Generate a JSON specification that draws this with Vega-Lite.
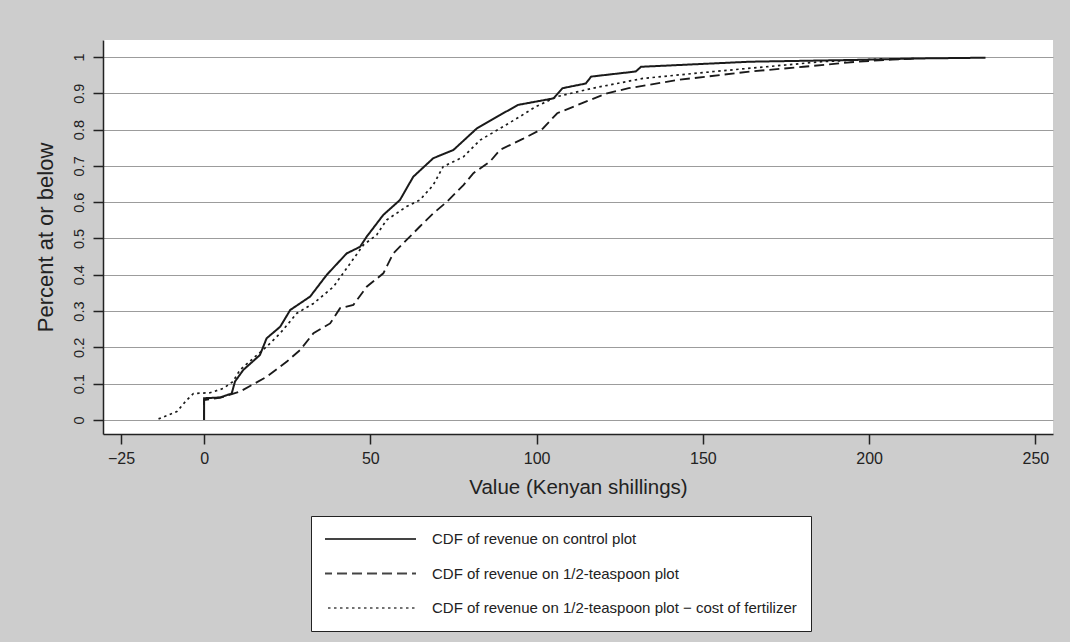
{
  "$schema": "https://vega.github.io/schema/vega-lite/v6.json",
  "autosize": {"type": "none"},
  "width": 950,
  "height": 394,
  "padding": {"left": 103, "top": 40, "right": 17, "bottom": 208},
  "background": "#cdcdcd",
  "config": {
    "view": {"fill": "white", "stroke": null},
    "font": "Liberation Sans",
    "axis": {"labelColor": "#222", "titleColor": "#222", "domainColor": "#222", "tickColor": "#222", "titleFontWeight": "normal"}
  },
  "data": {
    "values": [
      {"s": "CDF of revenue on control plot", "i": 0, "x": 0, "y": 0},
      {"s": "CDF of revenue on control plot", "i": 1, "x": 0, "y": 0.06},
      {"s": "CDF of revenue on control plot", "i": 2, "x": 4.8, "y": 0.062},
      {"s": "CDF of revenue on control plot", "i": 3, "x": 8.3, "y": 0.073},
      {"s": "CDF of revenue on control plot", "i": 4, "x": 9.3, "y": 0.106},
      {"s": "CDF of revenue on control plot", "i": 5, "x": 11.8, "y": 0.138},
      {"s": "CDF of revenue on control plot", "i": 6, "x": 16.8, "y": 0.179},
      {"s": "CDF of revenue on control plot", "i": 7, "x": 18.8, "y": 0.225},
      {"s": "CDF of revenue on control plot", "i": 8, "x": 22.9, "y": 0.257},
      {"s": "CDF of revenue on control plot", "i": 9, "x": 25.9, "y": 0.303},
      {"s": "CDF of revenue on control plot", "i": 10, "x": 31.9, "y": 0.34},
      {"s": "CDF of revenue on control plot", "i": 11, "x": 36.9, "y": 0.40},
      {"s": "CDF of revenue on control plot", "i": 12, "x": 42.9, "y": 0.459},
      {"s": "CDF of revenue on control plot", "i": 13, "x": 46.9, "y": 0.477},
      {"s": "CDF of revenue on control plot", "i": 14, "x": 48.9, "y": 0.505},
      {"s": "CDF of revenue on control plot", "i": 15, "x": 53.9, "y": 0.565},
      {"s": "CDF of revenue on control plot", "i": 16, "x": 58.9, "y": 0.606},
      {"s": "CDF of revenue on control plot", "i": 17, "x": 62.9, "y": 0.670},
      {"s": "CDF of revenue on control plot", "i": 18, "x": 68.9, "y": 0.721},
      {"s": "CDF of revenue on control plot", "i": 19, "x": 75, "y": 0.744},
      {"s": "CDF of revenue on control plot", "i": 20, "x": 82, "y": 0.803},
      {"s": "CDF of revenue on control plot", "i": 21, "x": 89, "y": 0.840},
      {"s": "CDF of revenue on control plot", "i": 22, "x": 94.4, "y": 0.868},
      {"s": "CDF of revenue on control plot", "i": 23, "x": 105.1, "y": 0.886},
      {"s": "CDF of revenue on control plot", "i": 24, "x": 107.8, "y": 0.914},
      {"s": "CDF of revenue on control plot", "i": 25, "x": 114.8, "y": 0.927},
      {"s": "CDF of revenue on control plot", "i": 26, "x": 116.4, "y": 0.946},
      {"s": "CDF of revenue on control plot", "i": 27, "x": 129.8, "y": 0.960},
      {"s": "CDF of revenue on control plot", "i": 28, "x": 131.4, "y": 0.973},
      {"s": "CDF of revenue on control plot", "i": 29, "x": 164.2, "y": 0.987},
      {"s": "CDF of revenue on control plot", "i": 30, "x": 196.3, "y": 0.992},
      {"s": "CDF of revenue on control plot", "i": 31, "x": 215, "y": 0.996},
      {"s": "CDF of revenue on control plot", "i": 32, "x": 235, "y": 0.998},

      {"s": "CDF of revenue on 1/2-teaspoon plot", "i": 0, "x": 0, "y": 0},
      {"s": "CDF of revenue on 1/2-teaspoon plot", "i": 1, "x": 0, "y": 0.055},
      {"s": "CDF of revenue on 1/2-teaspoon plot", "i": 2, "x": 5, "y": 0.062},
      {"s": "CDF of revenue on 1/2-teaspoon plot", "i": 3, "x": 10.8, "y": 0.078},
      {"s": "CDF of revenue on 1/2-teaspoon plot", "i": 4, "x": 18.8, "y": 0.119},
      {"s": "CDF of revenue on 1/2-teaspoon plot", "i": 5, "x": 24.9, "y": 0.161},
      {"s": "CDF of revenue on 1/2-teaspoon plot", "i": 6, "x": 28.9, "y": 0.193},
      {"s": "CDF of revenue on 1/2-teaspoon plot", "i": 7, "x": 32.9, "y": 0.239},
      {"s": "CDF of revenue on 1/2-teaspoon plot", "i": 8, "x": 37.9, "y": 0.266},
      {"s": "CDF of revenue on 1/2-teaspoon plot", "i": 9, "x": 40.9, "y": 0.308},
      {"s": "CDF of revenue on 1/2-teaspoon plot", "i": 10, "x": 44.9, "y": 0.317},
      {"s": "CDF of revenue on 1/2-teaspoon plot", "i": 11, "x": 48.9, "y": 0.367},
      {"s": "CDF of revenue on 1/2-teaspoon plot", "i": 12, "x": 53.9, "y": 0.404},
      {"s": "CDF of revenue on 1/2-teaspoon plot", "i": 13, "x": 56.9, "y": 0.459},
      {"s": "CDF of revenue on 1/2-teaspoon plot", "i": 14, "x": 60.9, "y": 0.496},
      {"s": "CDF of revenue on 1/2-teaspoon plot", "i": 15, "x": 64.9, "y": 0.533},
      {"s": "CDF of revenue on 1/2-teaspoon plot", "i": 16, "x": 68.9, "y": 0.569},
      {"s": "CDF of revenue on 1/2-teaspoon plot", "i": 17, "x": 73, "y": 0.601},
      {"s": "CDF of revenue on 1/2-teaspoon plot", "i": 18, "x": 78, "y": 0.647},
      {"s": "CDF of revenue on 1/2-teaspoon plot", "i": 19, "x": 81, "y": 0.680},
      {"s": "CDF of revenue on 1/2-teaspoon plot", "i": 20, "x": 86, "y": 0.712},
      {"s": "CDF of revenue on 1/2-teaspoon plot", "i": 21, "x": 89, "y": 0.744},
      {"s": "CDF of revenue on 1/2-teaspoon plot", "i": 22, "x": 96, "y": 0.775},
      {"s": "CDF of revenue on 1/2-teaspoon plot", "i": 23, "x": 101.9, "y": 0.803},
      {"s": "CDF of revenue on 1/2-teaspoon plot", "i": 24, "x": 106.2, "y": 0.845},
      {"s": "CDF of revenue on 1/2-teaspoon plot", "i": 25, "x": 114.8, "y": 0.877},
      {"s": "CDF of revenue on 1/2-teaspoon plot", "i": 26, "x": 121.2, "y": 0.900},
      {"s": "CDF of revenue on 1/2-teaspoon plot", "i": 27, "x": 127.7, "y": 0.914},
      {"s": "CDF of revenue on 1/2-teaspoon plot", "i": 28, "x": 142.7, "y": 0.937},
      {"s": "CDF of revenue on 1/2-teaspoon plot", "i": 29, "x": 164.2, "y": 0.960},
      {"s": "CDF of revenue on 1/2-teaspoon plot", "i": 30, "x": 180.3, "y": 0.973},
      {"s": "CDF of revenue on 1/2-teaspoon plot", "i": 31, "x": 196.3, "y": 0.987},
      {"s": "CDF of revenue on 1/2-teaspoon plot", "i": 32, "x": 207, "y": 0.993},
      {"s": "CDF of revenue on 1/2-teaspoon plot", "i": 33, "x": 215, "y": 0.996},

      {"s": "CDF of revenue on 1/2-teaspoon plot − cost of fertilizer", "i": 0, "x": -13.7, "y": 0.003},
      {"s": "CDF of revenue on 1/2-teaspoon plot − cost of fertilizer", "i": 1, "x": -8.2, "y": 0.023},
      {"s": "CDF of revenue on 1/2-teaspoon plot − cost of fertilizer", "i": 2, "x": -5.2, "y": 0.055},
      {"s": "CDF of revenue on 1/2-teaspoon plot − cost of fertilizer", "i": 3, "x": -3.2, "y": 0.073},
      {"s": "CDF of revenue on 1/2-teaspoon plot − cost of fertilizer", "i": 4, "x": 1.8, "y": 0.075},
      {"s": "CDF of revenue on 1/2-teaspoon plot − cost of fertilizer", "i": 5, "x": 5.8, "y": 0.087},
      {"s": "CDF of revenue on 1/2-teaspoon plot − cost of fertilizer", "i": 6, "x": 8.7, "y": 0.106},
      {"s": "CDF of revenue on 1/2-teaspoon plot − cost of fertilizer", "i": 7, "x": 10.8, "y": 0.138},
      {"s": "CDF of revenue on 1/2-teaspoon plot − cost of fertilizer", "i": 8, "x": 18.8, "y": 0.202},
      {"s": "CDF of revenue on 1/2-teaspoon plot − cost of fertilizer", "i": 9, "x": 22.9, "y": 0.239},
      {"s": "CDF of revenue on 1/2-teaspoon plot − cost of fertilizer", "i": 10, "x": 27.9, "y": 0.294},
      {"s": "CDF of revenue on 1/2-teaspoon plot − cost of fertilizer", "i": 11, "x": 32.9, "y": 0.321},
      {"s": "CDF of revenue on 1/2-teaspoon plot − cost of fertilizer", "i": 12, "x": 38.9, "y": 0.367},
      {"s": "CDF of revenue on 1/2-teaspoon plot − cost of fertilizer", "i": 13, "x": 42.9, "y": 0.418},
      {"s": "CDF of revenue on 1/2-teaspoon plot − cost of fertilizer", "i": 14, "x": 47.9, "y": 0.482},
      {"s": "CDF of revenue on 1/2-teaspoon plot − cost of fertilizer", "i": 15, "x": 51.9, "y": 0.510},
      {"s": "CDF of revenue on 1/2-teaspoon plot − cost of fertilizer", "i": 16, "x": 54.9, "y": 0.551},
      {"s": "CDF of revenue on 1/2-teaspoon plot − cost of fertilizer", "i": 17, "x": 60.9, "y": 0.588},
      {"s": "CDF of revenue on 1/2-teaspoon plot − cost of fertilizer", "i": 18, "x": 64.9, "y": 0.606},
      {"s": "CDF of revenue on 1/2-teaspoon plot − cost of fertilizer", "i": 19, "x": 68.9, "y": 0.647},
      {"s": "CDF of revenue on 1/2-teaspoon plot − cost of fertilizer", "i": 20, "x": 71.9, "y": 0.698},
      {"s": "CDF of revenue on 1/2-teaspoon plot − cost of fertilizer", "i": 21, "x": 78, "y": 0.725},
      {"s": "CDF of revenue on 1/2-teaspoon plot − cost of fertilizer", "i": 22, "x": 83, "y": 0.771},
      {"s": "CDF of revenue on 1/2-teaspoon plot − cost of fertilizer", "i": 23, "x": 89, "y": 0.803},
      {"s": "CDF of revenue on 1/2-teaspoon plot − cost of fertilizer", "i": 24, "x": 95, "y": 0.836},
      {"s": "CDF of revenue on 1/2-teaspoon plot − cost of fertilizer", "i": 25, "x": 99.7, "y": 0.863},
      {"s": "CDF of revenue on 1/2-teaspoon plot − cost of fertilizer", "i": 26, "x": 106.2, "y": 0.891},
      {"s": "CDF of revenue on 1/2-teaspoon plot − cost of fertilizer", "i": 27, "x": 116.9, "y": 0.914},
      {"s": "CDF of revenue on 1/2-teaspoon plot − cost of fertilizer", "i": 28, "x": 132, "y": 0.941},
      {"s": "CDF of revenue on 1/2-teaspoon plot − cost of fertilizer", "i": 29, "x": 153.4, "y": 0.960},
      {"s": "CDF of revenue on 1/2-teaspoon plot − cost of fertilizer", "i": 30, "x": 174.9, "y": 0.978},
      {"s": "CDF of revenue on 1/2-teaspoon plot − cost of fertilizer", "i": 31, "x": 185.6, "y": 0.987},
      {"s": "CDF of revenue on 1/2-teaspoon plot − cost of fertilizer", "i": 32, "x": 205, "y": 0.995}
    ]
  },
  "mark": {"type": "line", "color": "#1a1a1a", "strokeCap": "butt"},
  "encoding": {
    "x": {
      "field": "x", "type": "quantitative",
      "scale": {"domain": [-30.4, 255.3], "nice": false, "zero": false},
      "axis": {
        "title": "Value (Kenyan shillings)",
        "values": [-25, 0, 50, 100, 150, 200, 250],
        "grid": false, "tickSize": 10, "labelFontSize": 16, "labelPadding": 6,
        "titleFontSize": 20.5, "titlePadding": 11, "domainWidth": 1.5, "tickWidth": 1.5
      }
    },
    "y": {
      "field": "y", "type": "quantitative",
      "scale": {"domain": [-0.0386, 1.0468], "nice": false, "zero": false},
      "axis": {
        "title": "Percent at or below",
        "values": [0, 0.1, 0.2, 0.3, 0.4, 0.5, 0.6, 0.7, 0.8, 0.9, 1],
        "format": "~g",
        "grid": true, "gridColor": "#9c9c9c", "gridWidth": 1,
        "tickSize": 10, "labelAngle": -90, "labelAlign": "center", "labelBaseline": "bottom",
        "labelFontSize": 14.5, "labelPadding": 7,
        "titleFontSize": 22, "titlePadding": 14, "domainWidth": 1.5, "tickWidth": 1.5
      }
    },
    "order": {"field": "i", "type": "quantitative"},
    "strokeDash": {
      "field": "s", "type": "nominal",
      "scale": {
        "domain": ["CDF of revenue on control plot", "CDF of revenue on 1/2-teaspoon plot", "CDF of revenue on 1/2-teaspoon plot − cost of fertilizer"],
        "range": [[1, 0], [10, 5], [2.5, 3.5]]
      },
      "legend": {
        "title": null, "orient": "none", "legendX": 208, "legendY": 476,
        "direction": "vertical",
        "fillColor": "white", "strokeColor": "#222", "padding": 14,
        "symbolType": "stroke", "symbolSize": 8836, "symbolStrokeWidth": 1.3, "symbolStrokeColor": "#444",
        "symbolOffset": -4,
        "clipHeight": 18,
        "labelFontSize": 15, "labelColor": "#222", "labelOffset": 15, "labelLimit": 500,
        "rowPadding": 16.5
      }
    },
    "strokeWidth": {
      "field": "s", "type": "nominal",
      "scale": {
        "domain": ["CDF of revenue on control plot", "CDF of revenue on 1/2-teaspoon plot", "CDF of revenue on 1/2-teaspoon plot − cost of fertilizer"],
        "range": [2, 1.7, 2]
      },
      "legend": null
    }
  }
}
